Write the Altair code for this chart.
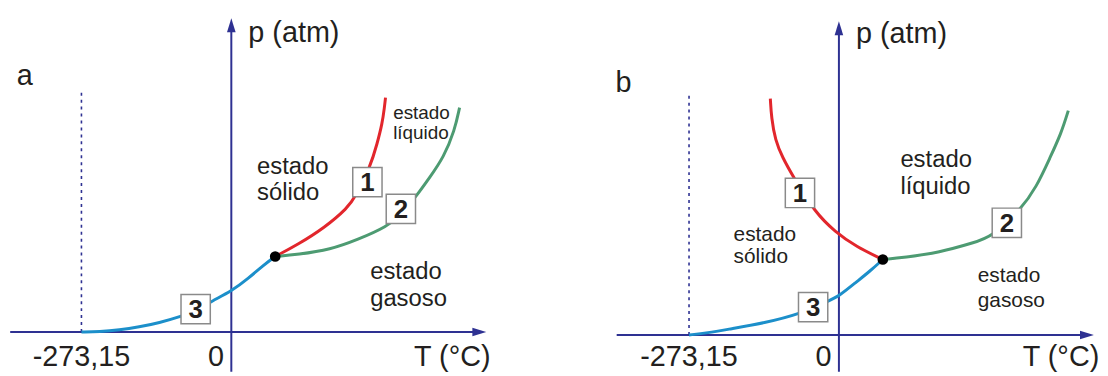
import altair as alt
import pandas as pd

NAVY = "#2e3192"
RED = "#e2262c"
GREEN = "#4d9b72"
BLUE = "#1c8fca"
INK = "#231f20"
FONT = "Liberation Sans"

# ---------------- shared values ----------------
T_ABS = -273.15          # absolute zero (°C)
DASH_TOP = 244           # top of dashed line (p units)
TRIPLE = (80, 76)        # triple point (T, p)

# ---------------- panel a ----------------
a_red_T = [80, 121, 170, 212, 226, 253, 266, 275, 279, 281]
a_red_p = [76, 88, 105, 125, 136, 166, 190, 210, 226, 236]
a_green_T = [80, 121, 181, 230, 284, 311, 336, 362, 387, 407, 416]
a_green_p = [76, 78, 83, 93, 106, 119, 136, 156, 176, 203, 226]
a_blue_T = [-273.15, -240, -204, -168, -132, -90, -65, -36, 0, 31, 58, 80]
a_blue_p = [0, 0.3, 2, 5, 9, 16, 21, 31, 41, 54, 67, 76]
a_box_labels = ["1", "2", "3"]
a_box_T = [248, 309, -65]
a_box_p = [151, 124, 23]
a_regions = [("estado", "sólido"), ("estado", "líquido"), ("estado", "gasoso")]
a_region_T = [47, 295, 253]
a_region_p = [(166, 140), (221, 200), (60, 33)]
a_region_size = [24, 19, 24]

# ---------------- panel b ----------------
b_red_T = [-125, -123, -116, -103, -83, -43, -7, 31, 80]
b_red_p = [238, 219, 196, 179, 159, 123, 104, 89, 76]
b_green_T = [80, 119, 183, 246, 279, 331, 360, 385, 405, 418]
b_green_p = [76, 78, 83, 93, 99, 126, 149, 179, 203, 226]
b_blue_T = [-273.15, -240, -199, -136, -71, -20, 0, 31, 56, 80]
b_blue_p = [0, 2, 6, 12, 21, 34, 39, 53, 64, 76]
b_box_labels = ["1", "2", "3"]
b_box_T = [-71, 306, -47]
b_box_p = [143, 113, 28]
b_regions = [("estado", "líquido"), ("estado", "sólido"), ("estado", "gasoso")]
b_region_T = [112, -192, 253]
b_region_p = [(176, 149), (101, 78), (59, 34)]
b_region_size = [24, 21, 21]

tick_labels = ["-273,15", "0"]
tick_T = [-273.15, -28]
axis_title_x = "T (°C)"
axis_title_y = "p (atm)"


def panel(letter, dom_T, dom_p, letter_pos, ytitle_pos, xtitle_pos, tick_p,
          red, green, blue, boxes, regions, xaxis_from):
    xs = alt.Scale(domain=dom_T, nice=False, zero=False)
    ys = alt.Scale(domain=dom_p, nice=False, zero=False)
    X = alt.X("T:Q", scale=xs, axis=None)
    Y = alt.Y("p:Q", scale=ys, axis=None)

    layers = []
    # axes
    xaxis = pd.DataFrame({"T": [xaxis_from], "T2": [445], "p": [0]})
    layers.append(alt.Chart(xaxis).mark_rule(color=NAVY, strokeWidth=2).encode(
        x=X, x2="T2:Q", y=Y))
    yaxis = pd.DataFrame({"T": [0], "p": [dom_p[0] - 5], "p2": [305]})
    layers.append(alt.Chart(yaxis).mark_rule(color=NAVY, strokeWidth=2).encode(
        x=X, y=Y, y2="p2:Q"))
    heads = pd.DataFrame({"T": [0], "p": [309]})
    layers.append(alt.Chart(heads).mark_point(
        shape="M0,-1L0.62,1L-0.62,1Z", size=196, filled=True, opacity=1,
        color=NAVY, strokeWidth=0).encode(x=X, y=Y))
    headr = pd.DataFrame({"T": [452], "p": [0]})
    layers.append(alt.Chart(headr).mark_point(
        shape="M1,0L-1,-0.62L-1,0.62Z", size=196, filled=True, opacity=1,
        color=NAVY, strokeWidth=0).encode(x=X, y=Y))
    # dashed absolute zero
    dash = pd.DataFrame({"T": [T_ABS], "p": [0], "p2": [DASH_TOP]})
    layers.append(alt.Chart(dash).mark_rule(
        color=NAVY, strokeWidth=1.6, strokeDash=[3, 4]).encode(x=X, y=Y, y2="p2:Q"))
    # curves
    for (Ts, ps), col in zip([red, green, blue], [RED, GREEN, BLUE]):
        df = pd.DataFrame({"T": Ts, "p": ps})
        layers.append(alt.Chart(df).mark_line(
            color=col, strokeWidth=3, interpolate="basis").encode(x=X, y=Y))
    # triple point
    tp = pd.DataFrame({"T": [TRIPLE[0]], "p": [TRIPLE[1]]})
    layers.append(alt.Chart(tp).mark_circle(size=115, color="black", opacity=1).encode(x=X, y=Y))
    # boxes
    bl, bT, bp = boxes
    bdf = pd.DataFrame({"T": bT, "p": bp, "lab": bl})
    layers.append(alt.Chart(bdf).mark_point(
        shape="square", size=870, filled=True, fill="white", opacity=1,
        stroke="#8a8a8a", strokeWidth=1.5).encode(x=X, y=Y))
    layers.append(alt.Chart(bdf).mark_text(
        font=FONT, fontSize=26, fontWeight="bold", color=INK, baseline="middle",
        align="center", dy=1).encode(x=X, y=Y, text="lab:N"))
    # region labels
    labs, rT, rp, rs = regions
    for (l1, l2), t, (p1, p2), s in zip(labs, rT, rp, rs):
        df = pd.DataFrame({"T": [t, t], "p": [p1, p2], "txt": [l1, l2]})
        layers.append(alt.Chart(df).mark_text(
            font=FONT, fontSize=s, color=INK, align="left", baseline="middle").encode(
            x=X, y=Y, text="txt:N"))
    # panel letter and axis titles
    tdf = pd.DataFrame({"T": [letter_pos[0], ytitle_pos[0], xtitle_pos[0]],
                        "p": [letter_pos[1], ytitle_pos[1], xtitle_pos[1]],
                        "txt": [letter, axis_title_y, axis_title_x]})
    layers.append(alt.Chart(tdf).mark_text(
        font=FONT, fontSize=29, color=INK, align="left", baseline="middle").encode(
        x=X, y=Y, text="txt:N"))
    kdf = pd.DataFrame({"T": tick_T, "p": [tick_p, tick_p], "txt": tick_labels})
    layers.append(alt.Chart(kdf).mark_text(
        font=FONT, fontSize=29, color=INK, align="center", baseline="middle").encode(
        x=X, y=Y, text="txt:N"))

    return alt.layer(*layers).properties(width=540, height=360)


pa = panel("a", [-407, 570], [-35, 325], (-391, 258), (31, 301), (333, -25), -25,
           (a_red_T, a_red_p), (a_green_T, a_green_p), (a_blue_T, a_blue_p),
           (a_box_labels, a_box_T, a_box_p),
           (a_regions, a_region_T, a_region_p, a_region_size), -403)
pb = panel("b", [-515.6, 461.3], [-32, 328], (-407, 254), (31, 303), (335, -22), -22,
           (b_red_T, b_red_p), (b_green_T, b_green_p), (b_blue_T, b_blue_p),
           (b_box_labels, b_box_T, b_box_p),
           (b_regions, b_region_T, b_region_p, b_region_size), -405)

chart = alt.hconcat(pa, pb, spacing=12).properties(padding=0).configure(
    background="white").configure_view(strokeWidth=0, stroke="transparent")

chart.save("out.html", embed_options={"renderer": "svg", "actions": False})
